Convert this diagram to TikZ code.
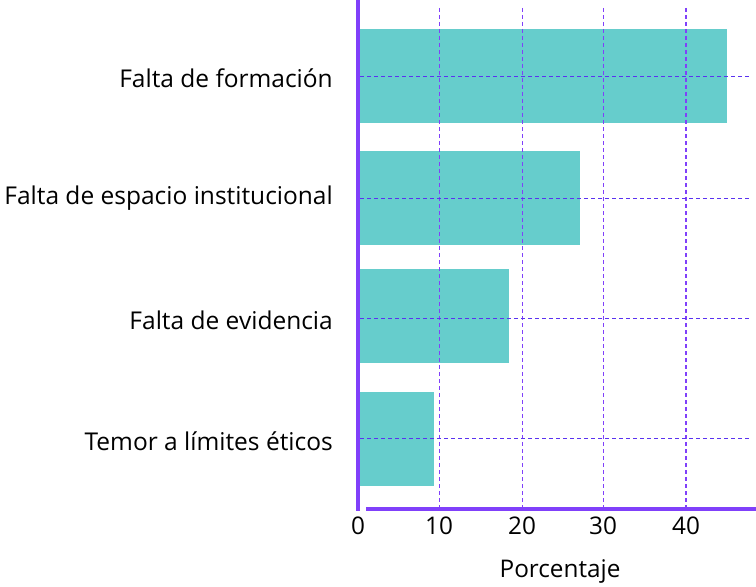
\documentclass[tikz,border=0pt]{standalone}
\usepackage{fontspec}
\setmainfont{Open Sans}
\definecolor{axpurple}{RGB}{128,64,250}
\definecolor{gridblue}{RGB}{90,50,240}
\definecolor{barteal}{RGB}{102,205,204}
\tikzset{
  bar/.style={fill=barteal, draw=none},
  vgrid/.style={draw=axpurple, dash pattern=on 4bp off 3bp, line width=0.9bp},
  hgrid/.style={draw=gridblue, dash pattern=on 4bp off 3bp, line width=0.9bp},
  axis/.style={draw=axpurple, line width=4bp},
  cat/.style={anchor=east, inner sep=0, font=\fontsize{24.6}{28}\selectfont},
  tick/.style={anchor=center, inner sep=0, font=\fontsize{24.4}{28}\selectfont},
}
\begin{document}
\begin{tikzpicture}[x=1bp, y=-1bp]
\useasboundingbox (0,0) rectangle (756,587);
% bars
\fill[bar] (360,29) rectangle (727,123);
\fill[bar] (360,151) rectangle (580,245);
\fill[bar] (360,269) rectangle (509,363);
\fill[bar] (360,392) rectangle (434,486);
% vertical grid
\foreach \x in {439,522,603} \draw[vgrid] (\x,8) -- (\x,507);
\draw[vgrid, line width=2bp] (686,8) -- (686,507);
% horizontal grid
\foreach \y in {76,198,318,438} \draw[hgrid] (360,\y) -- (752,\y);
% axes
\draw[axis] (358,0) -- (358,511);
\draw[axis] (366,509) -- (756,509);
% tick labels
\node[tick] (t0) at (358,526) {0};
\node[tick] (t10) at (439,526) {10};
\node[tick] (t20) at (522,526) {20};
\node[tick] (t30) at (603,526) {30};
\node[tick] (t40) at (686,526) {40};
\node[tick] (xl) at (560,571) {Porcentaje};
% category labels
\node[cat] (c1) at (333,78) {Falta de formación};
\node[cat] (c2) at (333,198) {Falta de espacio institucional};
\node[cat] (c3) at (333,320) {Falta de evidencia};
\node[cat] (c4) at (333,441) {Temor a límites éticos};
\end{tikzpicture}
\end{document}
